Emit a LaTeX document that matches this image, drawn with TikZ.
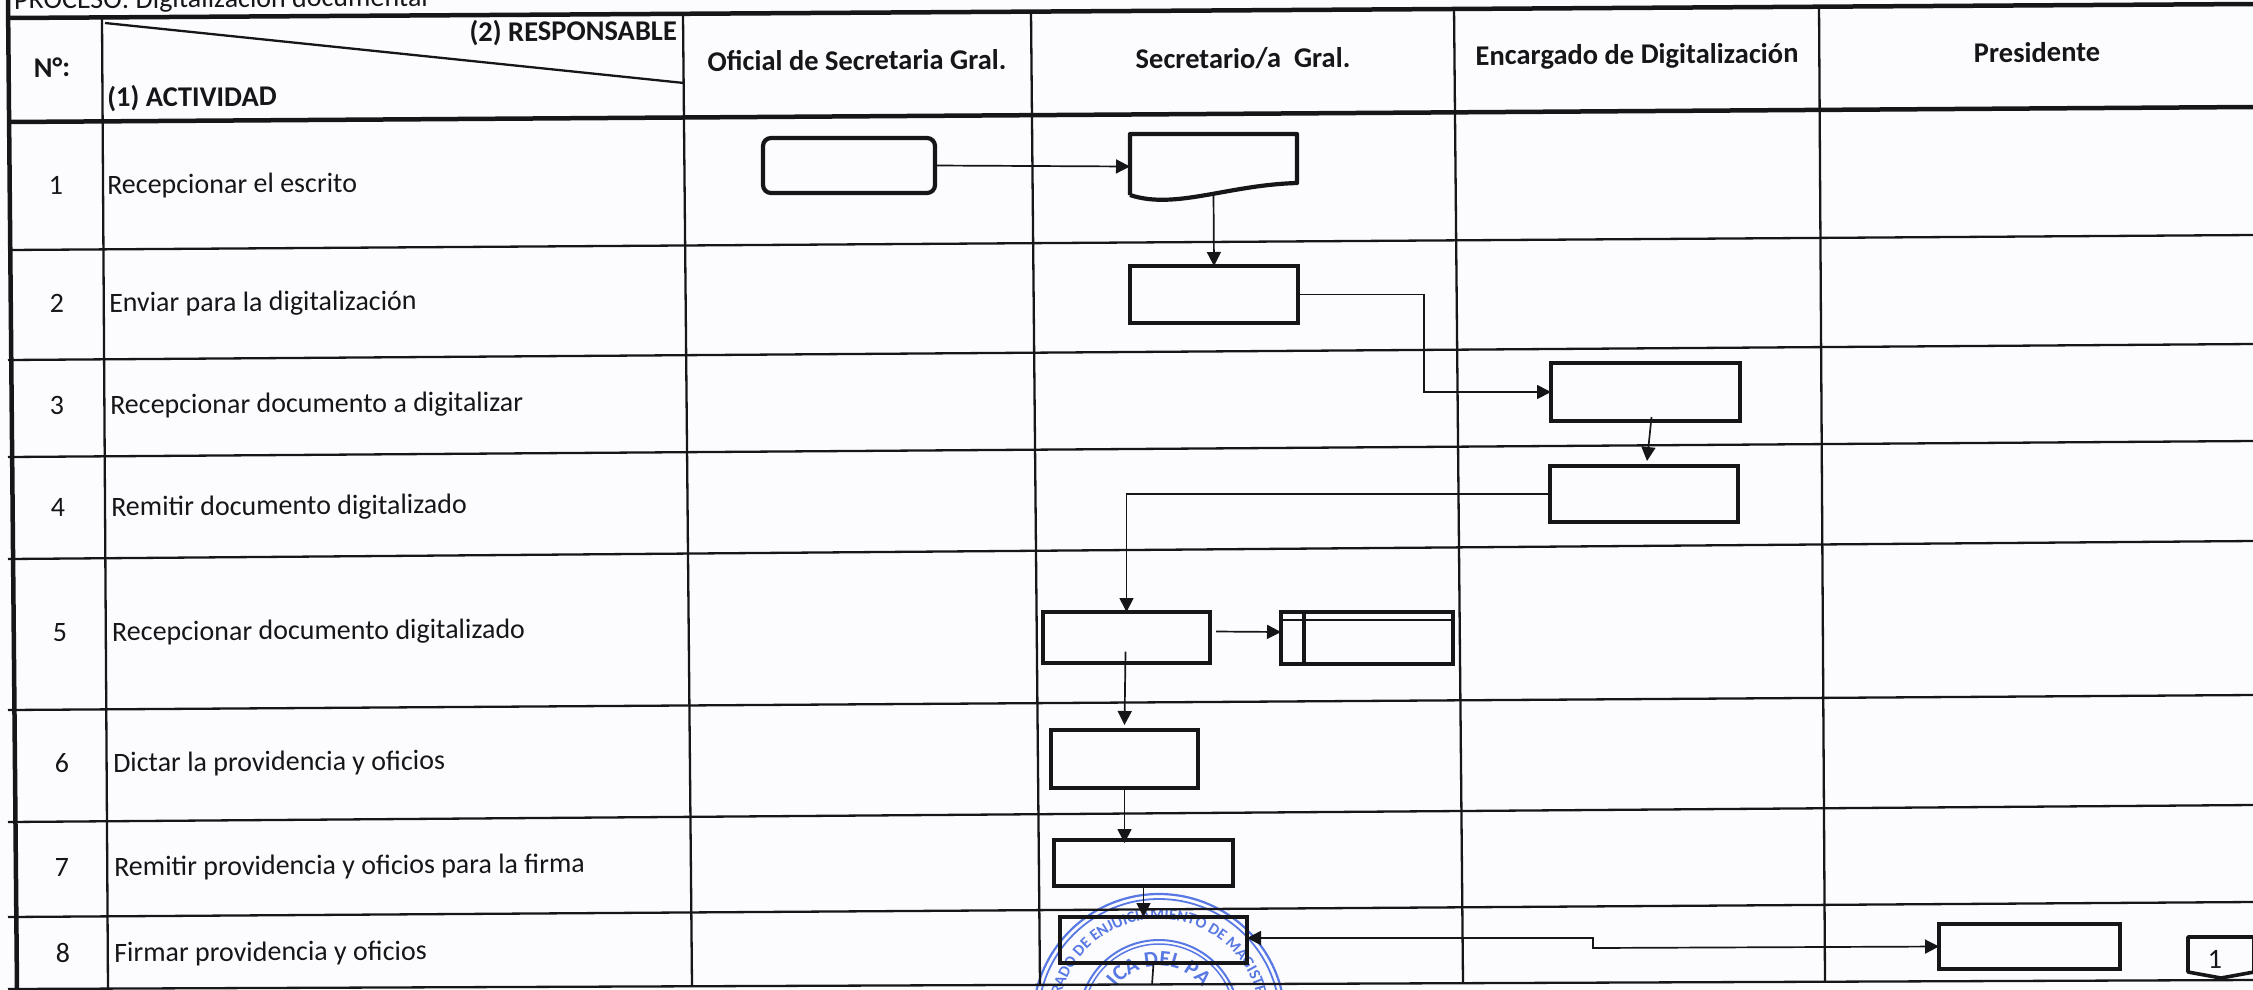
\documentclass[tikz,border=0pt]{standalone}
\usepackage{fontspec}
\setmainfont{Carlito}
\usetikzlibrary{arrows.meta,calc,decorations.text}
\definecolor{papel}{RGB}{252,252,254}
\definecolor{tinta}{RGB}{22,22,24}
\definecolor{sello}{RGB}{88,120,228}
\begin{document}
\begin{tikzpicture}[
    x=1pt, y=-1pt,
    rulethin/.style={draw=tinta, line width=2.3pt},
    rulethick/.style={draw=tinta, line width=4.5pt},
    caja/.style={draw=tinta, line width=4.2pt, inner sep=0pt, outer sep=0pt},
    conector/.style={draw=tinta, line width=1.7pt, -{Triangle[length=14pt,width=14pt]}},
    actividad/.style={anchor=west, inner sep=0pt, rotate=0.4, text=tinta, text height=19pt, text depth=5pt, font=\fontsize{28}{32}\selectfont},
    numero/.style={actividad, anchor=center},
    encabezado/.style={actividad, anchor=center, font=\fontsize{28.5}{32}\selectfont\bfseries}
]

\useasboundingbox (0,0) rectangle (2253,989);
\clip (0,0) rectangle (2253,989);
\fill[papel] (0,0) rectangle (2253,989);

\begin{scope}[shift={(1159,1020)}, x=1pt, y=1pt]
    \draw[sello, line width=2.2pt] (0,0) circle (126pt);
    \draw[sello, line width=1.8pt] (0,0) circle (121pt);
    \draw[sello, line width=2pt] (0,0) circle (80pt);
    \draw[sello, line width=1.5pt] (0,0) circle (76pt);
    \path[decorate, decoration={text along path, text align=center, text format delimiters={|}{|},
        text={|\fontsize{16}{16}\selectfont\bfseries\color{sello}|RADO DE ENJUICIAMIENTO DE MAGISTR}}]
        (175:101pt) arc (175:5:101pt);
    \path[decorate, decoration={text along path, text align=center, text format delimiters={|}{|},
        text={|\fontsize{22}{22}\selectfont\bfseries\color{sello}|ICA DEL PA}}]
        (170:54pt) arc (170:10:54pt);
\end{scope}

\draw[rulethick] (8,18) -- (2253,4);
\draw[rulethick] (8,122) -- (2253,107);
\draw[rulethin] (8,250) -- (2253,235);
\draw[rulethin] (8,360) -- (2253,344);
\draw[rulethin] (8,457) -- (2253,441);
\draw[rulethin] (8,559) -- (2253,541);
\draw[rulethin] (8,710) -- (2253,695);
\draw[rulethin] (8,822) -- (2253,805);
\draw[rulethin] (8,917) -- (2253,902);
\draw[rulethin] (8,989) -- (2253,980);

\draw[rulethick] (8,0) -- (17,989);
\draw[rulethin] (102,18) -- (108,989);
\draw[rulethin] (683,15) -- (692,986);
\draw[rulethin] (1031,12) -- (1040,985);
\draw[rulethin] (1454,7) -- (1463,983);
\draw[rulethin] (1819,6) -- (1825,981);
\draw[rulethin] (105,23) -- (684,83);

\node[actividad, anchor=base west] (proceso) at (14,9) {PROCESO: Digitalización documental};
\node[encabezado] (nro) at (52,70) {N°:};
\node[encabezado, anchor=east] (responsable) at (677,33) {(2) RESPONSABLE};
\node[encabezado, anchor=west] (actividades) at (107,100) {(1) ACTIVIDAD};
\node[encabezado] (oficial) at (857,63) {Oficial de Secretaria Gral.};
\node[encabezado] (secretario) at (1243,61) {Secretario/a\ \ Gral.};
\node[encabezado] (encargado) at (1637,57) {Encargado de Digitalización};
\node[encabezado] (presidente) at (2037,55) {Presidente};

\node[numero] (num1) at (56,187) {1};
\node[numero] (num2) at (57,305) {2};
\node[numero] (num3) at (57,407) {3};
\node[numero] (num4) at (58,509) {4};
\node[numero] (num5) at (60,634) {5};
\node[numero] (num6) at (62,765) {6};
\node[numero] (num7) at (62,869) {7};
\node[numero] (num8) at (63,955) {8};

\node[actividad] (act1) at (107,187) {Recepcionar el escrito};
\node[actividad] (act2) at (109,305) {Enviar para la digitalización};
\node[actividad] (act3) at (110,407) {Recepcionar documento a digitalizar};
\node[actividad] (act4) at (111,509) {Remitir documento digitalizado};
\node[actividad] (act5) at (112,634) {Recepcionar documento digitalizado};
\node[actividad] (act6) at (113,765) {Dictar la providencia y oficios};
\node[actividad] (act7) at (114,869) {Remitir providencia y oficios para la firma};
\node[actividad] (act8) at (114,955) {Firmar providencia y oficios};

\node[caja, rounded corners=8pt, minimum width=172pt, minimum height=55pt] (inicio) at (849,165.5) {};
\node[inner sep=0pt, outer sep=0pt, minimum width=167pt, minimum height=61pt] (escrito) at (1213.5,164.5) {};
\draw[draw=tinta, line width=4.2pt, line join=round] (escrito.south west) -- (escrito.north west) -- (escrito.north east) -- ($(escrito.south east)+(0,-12)$)
    .. controls ($(escrito.south east)+(-70,-10)$) and ($(escrito.south west)+(45,15)$) .. (escrito.south west);
\node[caja, minimum width=168pt, minimum height=57pt] (envio) at (1214,294.5) {};
\node[caja, minimum width=189pt, minimum height=58pt] (recibo) at (1645.5,392) {};
\node[caja, minimum width=188pt, minimum height=56pt] (remision) at (1644,494) {};
\node[caja, minimum width=167pt, minimum height=51pt] (recepcion) at (1126.5,637.5) {};
\node[caja, minimum width=172pt, minimum height=52pt] (archivo) at (1367,638) {};
\draw[draw=tinta, line width=4.2pt] ($(archivo.north west)+(23,0)$) -- ($(archivo.south west)+(23,0)$);
\draw[draw=tinta, line width=2.5pt] ($(archivo.north west)+(0,8)$) -- ($(archivo.north east)+(0,8)$);
\node[caja, minimum width=147pt, minimum height=58pt] (dictado) at (1124.5,759) {};
\node[caja, minimum width=179pt, minimum height=46pt] (envfirma) at (1143.5,863) {};
\node[caja, minimum width=187pt, minimum height=46pt] (firma) at (1153.5,940) {};
\node[caja, minimum width=181pt, minimum height=45pt] (presfirma) at (2029.5,946.5) {};
\node[inner sep=0pt, outer sep=0pt, minimum width=66pt, minimum height=41pt] (pagina) at (2221,957.5) {};
\draw[draw=tinta, line width=3.6pt, line join=round] (pagina.north west) -- (pagina.north east) -- ($(pagina.south east)+(0,-6)$) -- (pagina.south) -- ($(pagina.south west)+(0,-6)$) -- cycle;
\node[numero] (pagnum) at (2215,961) {1};

\coordinate (paso) at (1593,948);
\coordinate (salida) at (1152,985);

\draw[conector] (inicio.east) -- ([yshift=-2pt]escrito.west);
\draw[conector] (escrito.south) -- (envio.north);
\draw[conector] (envio.east) -- ++(126,0) |- (recibo.west);
\draw[conector] ([xshift=6pt,yshift=4pt]recibo.south) -- ([xshift=3pt,yshift=5pt]remision.north);
\draw[conector] (remision.west) -| (recepcion.north);
\draw[conector] ([xshift=6pt,yshift=6pt]recepcion.east) -- ([yshift=6pt]archivo.west);
\draw[conector] ([xshift=-1pt,yshift=-14pt]recepcion.center) -- ([yshift=5pt]dictado.north);
\draw[conector] (dictado.south) -- ([yshift=-3pt]dictado.south |- envfirma.north);
\draw[conector] (envfirma.south) -- (envfirma.south |- firma.north);
\draw[conector, {Triangle[length=14pt,width=14pt]}-{Triangle[length=14pt,width=14pt]}] ([yshift=2pt]firma.east) -| (paso) -- (presfirma.west);
\draw[draw=tinta, line width=1.7pt] (firma.south) -- (salida);

\end{tikzpicture}
\end{document}
